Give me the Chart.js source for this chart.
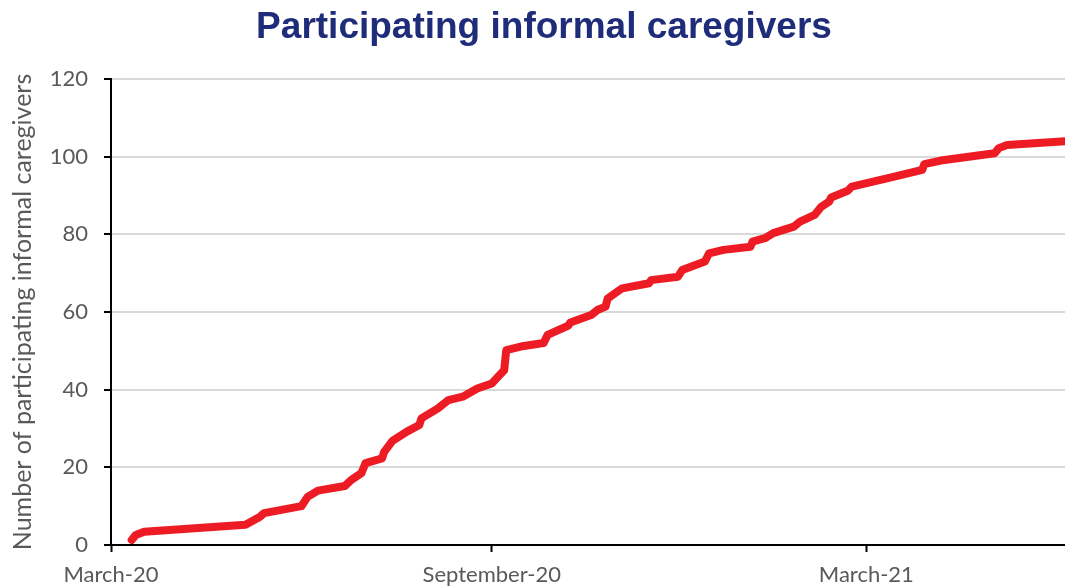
<!DOCTYPE html>
<html>
<head>
<meta charset="utf-8">
<script src="https://cdn.jsdelivr.net/npm/chart.js@4"></script>
<style>
  html, body { margin: 0; padding: 0; background: #fff; }
  #wrap { width: 1065px; height: 588px; }
</style>
</head>
<body>
<div id="wrap"><canvas id="caregiverChart"></canvas></div>
<script>
// days since 1 March 2020
var days = [10, 12, 16, 65, 72, 74, 92, 95, 100, 113, 116, 121, 123, 131, 132, 136, 143, 149, 150, 158,
    163, 170, 177, 184, 187, 190, 191, 198, 209, 211, 221, 222, 232, 235, 239, 240, 247, 260, 261, 274,
    276, 287, 289, 296, 309, 310, 316, 320, 330, 333, 340, 343, 347, 348, 356, 358, 378, 392, 393, 401,
    427, 429, 433, 461];
// cumulative number of participating caregivers
var participants = [1.3, 2.6, 3.4, 5.2, 7.3, 8.2, 10, 12.4, 14, 15.2, 16.7, 18.5, 21.1, 22.3, 24, 26.8, 29.2, 30.9, 32.6, 35.2,
    37.3, 38.2, 40.3, 41.6, 43.3, 45, 50.2, 51.1, 52, 54.1, 56.5, 57.3, 59.2, 60.5, 61.4, 63.5, 66.1, 67.4, 68.2, 69.1,
    70.8, 73, 75.1, 76, 76.8, 78.1, 79, 80.3, 82, 83.3, 85, 87, 88.4, 89.5, 91.2, 92.3, 94.8, 96.6, 98.1, 99,
    100.9, 102.2, 103, 104];

var tickDays = [0, 184, 365];
var tickLabels = ['March-20', 'September-20', 'March-21'];
var titel = 'Participating informal caregivers';

var punten = days.map(function (d, i) { return { x: d, y: participants[i] }; });

var grijs = '#595959';
var tickFont = { family: 'Lato', size: 22 };

// titel iets rechts van het midden, zoals in het origineel
var titelPlugin = {
    id: 'titelPlugin',
    afterDraw: function (chart) {
        var c = chart.ctx;
        c.save();
        c.font = 'bold 37px "Liberation Sans", Arial, sans-serif';
        c.fillStyle = '#1F2C79';
        c.textAlign = 'center';
        c.textBaseline = 'alphabetic';
        c.fillText(titel, 544, 38);
        c.restore();
    }
};

var ctx = document.getElementById('caregiverChart').getContext('2d');
var chart = new Chart(ctx, {
    type: 'line',
    data: {
        datasets: [{
            label: titel,
            data: punten,
            borderColor: '#ED1C24',
            borderWidth: 8,
            borderCapStyle: 'round',
            borderJoinStyle: 'round',
            pointRadius: 0,
            tension: 0,
            fill: false
        }]
    },
    options: {
        responsive: true,
        maintainAspectRatio: false,
        animation: false,
        layout: { padding: { left: 0, right: 0, top: 79, bottom: 0 } },
        plugins: {
            legend: { display: false },
            tooltip: { enabled: false },
            title: { display: false }
        },
        scales: {
            x: {
                type: 'linear',
                min: 0,
                max: 461,
                afterBuildTicks: function (axis) {
                    axis.ticks = tickDays.map(function (v) { return { value: v }; });
                },
                afterFit: function (axis) { axis.height = 43; },
                ticks: {
                    autoSkip: false,
                    maxRotation: 0,
                    color: grijs,
                    font: tickFont,
                    padding: 10,
                    callback: function (value) {
                        var i = tickDays.indexOf(value);
                        return i >= 0 ? tickLabels[i] : '';
                    }
                },
                grid: {
                    display: true,
                    drawOnChartArea: false,
                    drawTicks: true,
                    tickLength: 7,
                    tickColor: '#000',
                    tickWidth: 2
                },
                border: { color: '#000', width: 2 }
            },
            y: {
                min: 0,
                max: 120,
                afterFit: function (axis) { axis.width = 111; },
                ticks: {
                    stepSize: 20,
                    color: grijs,
                    font: tickFont,
                    padding: 16
                },
                grid: {
                    color: '#d9d9d9',
                    lineWidth: 2,
                    tickLength: 7,
                    tickColor: '#000',
                    tickWidth: 2
                },
                border: { color: '#000', width: 2 },
                title: {
                    display: true,
                    text: 'Number of participating informal caregivers',
                    color: grijs,
                    font: { family: 'Lato', size: 25 },
                    padding: { top: 8, bottom: 0 }
                }
            }
        }
    },
    plugins: [titelPlugin]
});
</script>
</body>
</html>
